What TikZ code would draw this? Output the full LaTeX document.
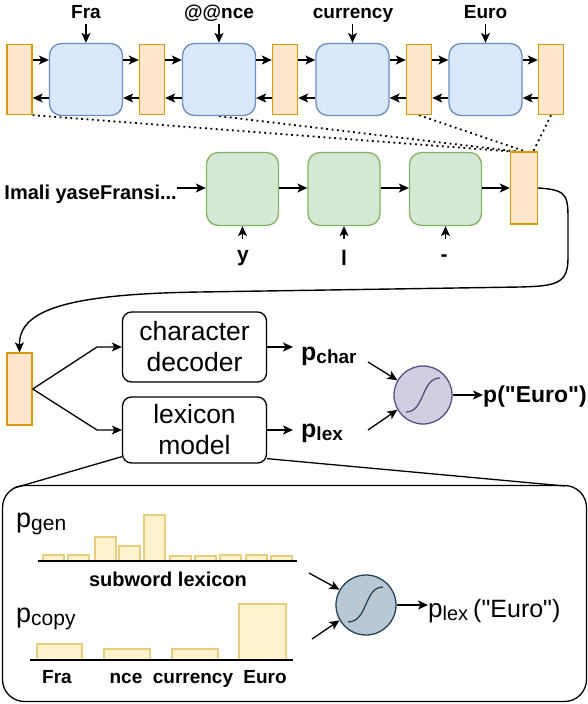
\documentclass[tikz,border=0pt]{standalone}
\usepackage{fontspec}
\setmainfont{Liberation Sans}[Ligatures=TeXOff]
\usetikzlibrary{arrows.meta,backgrounds}
\definecolor{orF}{HTML}{FFE6CC}
\definecolor{orD}{HTML}{D79B00}
\definecolor{blF}{HTML}{DAE8FC}
\definecolor{blD}{HTML}{6C8EBF}
\definecolor{grF}{HTML}{D5E8D4}
\definecolor{grD}{HTML}{82B366}
\definecolor{barF}{HTML}{FFF2CC}
\definecolor{barD}{HTML}{E9CD7E}
\definecolor{sAF}{HTML}{D0CEE2}
\definecolor{sAD}{HTML}{56517E}
\definecolor{sBF}{HTML}{BAC8D3}
\definecolor{sBD}{HTML}{23445D}
\begin{document}
\begin{tikzpicture}[x=1pt,y=-1pt,
 obox/.style={draw=orD,fill=orF,line width=1.4pt,minimum width=25pt,minimum height=70pt,inner sep=0pt},
 bbox/.style={draw=blD,fill=blF,line width=1.3pt,rounded corners=12pt,minimum width=73pt,minimum height=72pt,inner sep=0pt},
 gbox/.style={draw=grD,fill=grF,line width=1.3pt,rounded corners=12pt,minimum width=72pt,minimum height=73pt,inner sep=0pt},
 wbox/.style={draw=black,fill=white,line width=1.3pt,rounded corners=9pt,minimum width=144pt,inner sep=0pt,align=center,font=\fontsize{26.5}{31}\selectfont},
 arr/.style={-{Stealth[length=10pt,width=9pt,inset=2.5pt]},line width=1.3pt},
 lbl/.style={inner sep=0pt,font=\fontsize{19}{22}\selectfont\bfseries},
 dots/.style={line width=1.8pt,dash pattern=on 1.8pt off 3.6pt},
 bar/.style={draw=barD,fill=barF,line width=1.2pt},
 sig/.style={circle,line width=1.3pt,inner sep=0pt},
]
\useasboundingbox (0,0) rectangle (588,704);

% ---------- top row ----------
\node[obox] (o1) at (19.5,79.5) {};
\node[bbox] (b1) at (86,79.5) {};
\node[obox] (o2) at (152,79.5) {};
\node[bbox] (b2) at (219,79.5) {};
\node[obox] (o3) at (285,79.5) {};
\node[bbox] (b3) at (352.5,79.5) {};
\node[obox] (o4) at (419,79.5) {};
\node[bbox] (b4) at (485.5,79.5) {};
\node[obox] (o5) at (551,79.5) {};
\coordinate (yf) at (0,60);
\coordinate (yb) at (0,98);
\coordinate (ya) at (0,24);
\foreach \a/\b in {o1/b1,b1/o2,o2/b2,b2/o3,o3/b3,b3/o4,o4/b4,b4/o5}{
  \draw[arr] (\a.east |- yf) -- (\b.west |- yf);
  \draw[arr] (\b.west |- yb) -- (\a.east |- yb);
}
\node[lbl,anchor=base] (w1) at (86,18) {Fra};
\node[lbl,anchor=base] (w2) at (219,18) {@@nce};
\node[lbl,anchor=base] (w3) at (353,18) {currency};
\node[lbl,anchor=base] (w4) at (485.5,18) {Euro};
\foreach \b in {b1,b2,b3,b4}{
  \draw[arr] (\b.north |- ya) -- (\b.north);
}

% ---------- second row ----------
\node[anchor=base east,inner sep=0pt,font=\fontsize{20}{24}\selectfont\bfseries] (im) at (177,199) {Imali yaseFransi...};
\node[gbox] (g1) at (242.5,189) {};
\node[gbox] (g2) at (344,189) {};
\node[gbox] (g3) at (445.5,189) {};
\node[obox,minimum height=72pt,minimum width=27pt] (t) at (524,188) {};
\coordinate (yr) at (0,188);
\draw[arr] (im.east |- yr) -- (g1.west |- yr);
\draw[arr] (g1.east |- yr) -- (g2.west |- yr);
\draw[arr] (g2.east |- yr) -- (g3.west |- yr);
\draw[arr] (g3.east |- yr) -- (t.west |- yr);
\coordinate (yu) at (0,239);
\foreach \g in {g1,g2,g3}{
  \draw[arr] (\g.south |- yu) -- (\g.south);
}
\node[lbl,anchor=base,font=\fontsize{21}{24}\selectfont\bfseries] (c1) at (243,261) {y};
\node[lbl,anchor=base,font=\fontsize{21}{24}\selectfont\bfseries] (c2) at (344,265) {l};
\node[lbl,anchor=base,font=\fontsize{21}{24}\selectfont\bfseries] (c3) at (444,261) {-};

% dotted links
\coordinate (e1) at (518,152);
\coordinate (e2) at (521,152);
\coordinate (e3) at (527,152);
\coordinate (e4) at (533,152);
\begin{scope}[on background layer]
\draw[dots] (o1.south east) -- (e1);
\draw[dots] (b2.south) -- (e2);
\draw[dots] (o4.south) -- (e3);
\draw[dots] (o5.south) -- (e4);
\end{scope}

% ---------- middle ----------
\node[obox,minimum height=72pt] (ob) at (19.5,389) {};
\draw[arr,line width=1.4pt] (t.east) .. controls (570,190) and (568,196) .. (568,230) -- (568,258)
   .. controls (568,284) and (556,286) .. (520,287) -- (200,292)
   .. controls (60,294) and (19,312) .. (ob.north);

\node[wbox,minimum height=70pt] (cd) at (194.5,347) {character\\decoder};
\node[wbox,minimum height=66pt] (lm) at (194.5,430) {lexicon\\model};
\coordinate (f1) at (97,347);
\coordinate (f2) at (97,430);
\draw[arr] (ob.east) -- (f1) -- (cd.west);
\draw[arr] (ob.east) -- (f2) -- (lm.west);

\node[anchor=base west,inner sep=0pt,font=\bfseries] (pc) at (301,360)
  {\fontsize{25}{25}\selectfont p\fontsize{19}{19}\selectfont\raisebox{-3pt}{char}};
\node[anchor=base west,inner sep=0pt,font=\bfseries] (pl) at (301,437)
  {\fontsize{25}{25}\selectfont p\fontsize{19}{19}\selectfont\raisebox{-3pt}{lex}};
\coordinate (pce) at (293,347);
\coordinate (ple) at (293,430);
\draw[arr] (cd.east) -- (pce);
\draw[arr] (lm.east) -- (ple);

\node[sig,draw=sAD,fill=sAF,minimum size=58pt] (s1) at (423,395) {};
\draw[sAD,line width=1.3pt] ([shift={(-17,17)}]s1.center) .. controls ([shift={(2,17)}]s1.center) and ([shift={(-2,-17)}]s1.center) .. ([shift={(17,-17)}]s1.center);
\coordinate (a1) at (368,362);
\coordinate (a2) at (368,430);
\draw[arr] (a1) -- (s1.150);
\draw[arr] (a2) -- (s1.210);
\node[anchor=base west,inner sep=0pt,font=\fontsize{23}{23}\selectfont\bfseries] (pe) at (483,402) {p("Euro")};
\draw[arr] (s1.east) -- (pe.west |- s1.east);

% ---------- bottom panel ----------
\node[draw,line width=1.3pt,rounded corners=22pt,minimum width=584pt,minimum height=216pt,inner sep=0pt] (bb) at (294.5,593.5) {};
\coordinate (bl) at (14,488);
\coordinate (br) at (565,486);
\draw[line width=1.3pt] ([yshift=7pt]lm.south west) -- (bl);
\draw[line width=1.3pt] ([yshift=5pt]lm.south east) -- (br);

\node[anchor=base west,inner sep=0pt] (pg) at (16,527)
  {\fontsize{27}{27}\selectfont p\fontsize{21}{21}\selectfont\raisebox{-3pt}{gen}};
\foreach \x/\t in {43/555,68/555,95/537,119/546,144/515,170/556,195/556,220/555,246/555,271/556}{
  \draw[bar] (\x,561) rectangle (\x+21,\t);
}
\draw[line width=1.6pt] (38,561) -- (297,561);
\node[anchor=base,inner sep=0pt,font=\fontsize{20}{24}\selectfont\bfseries] (sl) at (168,586) {subword lexicon};

\node[anchor=base west,inner sep=0pt] (pcp) at (16,622)
  {\fontsize{27}{27}\selectfont p\fontsize{21}{21}\selectfont\raisebox{-3pt}{copy}};
\foreach \x/\y/\t in {37/82/644,104/150/649,172/218/649,239/286/604}{
  \draw[bar] (\x,660) rectangle (\y,\t);
}
\draw[line width=1.6pt] (30,660) -- (293,660);
\node[lbl,anchor=base] (k1) at (57,683) {Fra};
\node[lbl,anchor=base] (k2) at (126,683) {nce};
\node[lbl,anchor=base] (k3) at (193,683) {currency};
\node[lbl,anchor=base] (k4) at (265,683) {Euro};

\node[sig,draw=sBD,fill=sBF,minimum size=60pt] (s2) at (366,605) {};
\draw[sBD,line width=1.3pt] ([shift={(-18,17)}]s2.center) .. controls ([shift={(2,17)}]s2.center) and ([shift={(-2,-18)}]s2.center) .. ([shift={(17,-18)}]s2.center);
\coordinate (a3) at (309,573);
\coordinate (a4) at (312,639);
\draw[arr] (a3) -- (s2.150);
\draw[arr] (a4) -- (s2.210);
\node[anchor=base west,inner sep=0pt] (pl2) at (428,617)
  {\fontsize{26}{26}\selectfont p\fontsize{20}{20}\selectfont\raisebox{-3pt}{lex}\hspace{5pt}\fontsize{25}{25}\selectfont("Euro")};
\draw[arr] (s2.east) -- (pl2.west |- s2.east);
\end{tikzpicture}
\end{document}
